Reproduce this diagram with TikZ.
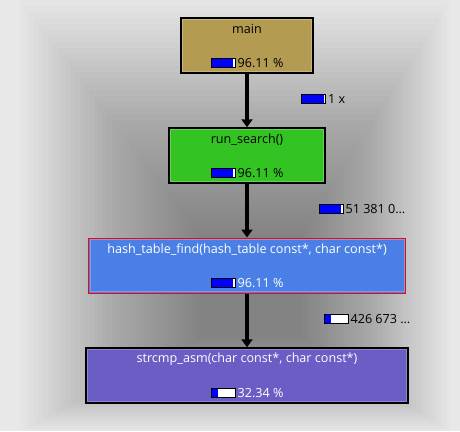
\documentclass[tikz,border=0pt]{standalone}
\usepackage{fontspec}
\setmainfont{Open Sans}
\usetikzlibrary{positioning,calc,arrows.meta}
\definecolor{bg}{HTML}{E8E8E8}
\definecolor{mainfill}{HTML}{B39B52}
\definecolor{runfill}{HTML}{33C424}
\definecolor{hashfill}{HTML}{4A80E6}
\definecolor{strfill}{HTML}{6A5EC4}
\definecolor{barblue}{HTML}{0000FF}
% bar node: name, position, fraction
\newcommand*{\costbar}[3]{%
  \node[bar,path picture={\fill[barblue] (path picture bounding box.south west) rectangle ([xshift=#3*22pt]path picture bounding box.north west);}] (#1) at (#2) {};}

\begin{document}
\begin{tikzpicture}[x=1pt,y=-1pt,
  fn/.style={rectangle,draw=black,line width=1.5pt,minimum height=55pt,inner sep=0pt},
  bevel/.style={draw=white,opacity=0.25,line width=1pt},
  title/.style={font=\fontsize{12.6}{14}\selectfont,inner sep=0pt},
  pct/.style={font=\fontsize{12.6}{14}\selectfont,inner sep=0pt},
  bar/.style={rectangle,draw=black,fill=white,line width=0.8pt,minimum width=24pt,minimum height=9pt,inner sep=0pt},
  call/.style={line width=3.5pt,-{Triangle[width=11pt,length=8pt]}}]
\useasboundingbox (0,0) rectangle (460,431);
\fill[bg] (0,0) rectangle (460,431);
% soft shadow behind the graph
\foreach \i in {0,...,39}
  \fill[black,opacity=0.012] (20+\i*4.6,0+\i*6) rectangle (450-\i*3.8,431-\i*2.4);

\node[fn,fill=mainfill,minimum width=132pt] (main) at (247,45.5) {};
\node[fn,fill=runfill,minimum width=156pt] (run) at (247,155.5) {};
\node[fn,fill=hashfill,draw=red,line width=1pt,minimum width=317pt] (hash) at (247,265.5) {};
\node[fn,fill=strfill,minimum width=322pt] (str) at (247,375.5) {};
\foreach \n in {main,run,hash,str}
  \draw[bevel] ([shift={(2pt,-2pt)}]\n.north west) rectangle ([shift={(-2pt,2pt)}]\n.south east);

\node[title] (main-t) at ([yshift=-12pt]main.north) {main};
\node[title] (run-t) at ([yshift=-12pt]run.north) {run\_search()};
\node[title,text=white] (hash-t) at ([yshift=-12pt]hash.north) {hash\_table\_find(hash\_table const*, char const*)};
\node[title,text=white] (str-t) at ([yshift=-12pt]str.north) {strcmp\_asm(char const*, char const*)};

\costbar{main-b}{$(main.south)+(-24,-10.5)$}{1}
\node[pct,right=2pt of main-b] (main-p) {96.11 \%};
\costbar{run-b}{$(run.south)+(-24,-10.5)$}{1}
\node[pct,right=2pt of run-b] (run-p) {96.11 \%};
\costbar{hash-b}{$(hash.south)+(-24,-10.5)$}{1}
\node[pct,right=2pt of hash-b,text=white] (hash-p) {96.11 \%};
\costbar{str-b}{$(str.south)+(-24,-10.5)$}{0.3234}
\node[pct,right=2pt of str-b,text=white] (str-p) {32.34 \%};

\draw[call] (main.south) -- (run.north);
\draw[call] (run.south) -- (hash.north);
\draw[call] (hash.south) -- (str.north);

\costbar{e1-b}{313.5,99}{1}
\node[pct,right=2pt of e1-b] (e1-p) {1 x};
\costbar{e2-b}{331,209}{1}
\node[pct,right=2pt of e2-b] (e2-p) {51 381 0\dots};
\costbar{e3-b}{336,319}{0.3}
\node[pct,right=2pt of e3-b] (e3-p) {426 673 \dots};
\end{tikzpicture}
\end{document}
